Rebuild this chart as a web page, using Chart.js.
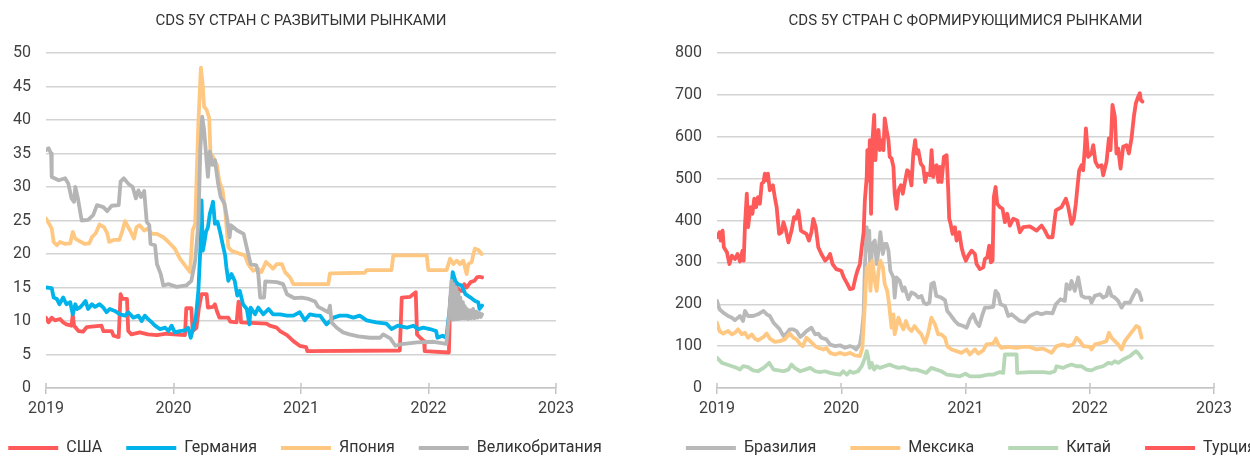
<!DOCTYPE html>
<html>
<head>
<meta charset="utf-8">
<script src="https://cdn.jsdelivr.net/npm/chart.js@4.4.1/dist/chart.umd.min.js"></script>
<style>
  html, body { margin: 0; padding: 0; background: #fff; overflow: hidden; }
  #page { position: relative; width: 1250px; height: 458px; overflow: hidden; }
  .panel { position: absolute; top: 0; width: 660px; height: 458px; }
</style>
</head>
<body>
<div id="page">
  <div class="panel" style="left:-25px"><canvas id="dev" width="660" height="458"></canvas></div>
  <div class="panel" style="left:641px"><canvas id="em" width="660" height="458"></canvas></div>
</div>
<script>
// ── data: [decimal year, bp] ──
const yearTicks = [2019, 2020, 2021, 2022, 2023];

const usa = [
  [2019.00, 10.5], [2019.02, 9.8], [2019.045, 10.5], [2019.07, 10.1], [2019.11, 10.3], [2019.135, 9.8],
  [2019.16, 9.5], [2019.20, 9.3], [2019.21, 11.0], [2019.22, 9.3], [2019.255, 8.5], [2019.29, 8.4],
  [2019.32, 9.1], [2019.435, 9.3], [2019.45, 8.5], [2019.515, 8.5], [2019.53, 7.8], [2019.57, 7.6],
  [2019.585, 14.0], [2019.60, 13.3], [2019.635, 13.3], [2019.645, 8.5], [2019.67, 8.0], [2019.735, 8.3],
  [2019.80, 8.0], [2019.87, 7.9], [2019.945, 8.1], [2020.09, 7.9], [2020.10, 11.9], [2020.14, 11.9],
  [2020.15, 8.5], [2020.18, 9.0], [2020.20, 12.0], [2020.22, 14.0], [2020.26, 14.0], [2020.27, 12.0],
  [2020.31, 12.1], [2020.325, 12.5], [2020.34, 11.5], [2020.36, 10.5], [2020.43, 10.5], [2020.445, 9.9],
  [2020.495, 9.8], [2020.51, 12.9], [2020.52, 12.5], [2020.53, 9.8], [2020.73, 9.6], [2020.755, 9.3],
  [2020.81, 9.0], [2020.835, 8.5], [2020.89, 7.9], [2020.94, 7.0], [2020.99, 6.3], [2021.04, 6.1],
  [2021.05, 5.5], [2021.775, 5.6], [2021.79, 13.5], [2021.855, 13.6], [2021.88, 14.0], [2021.90, 14.3],
  [2021.91, 8.0], [2021.935, 7.5], [2021.965, 7.0], [2021.97, 5.5], [2022.16, 5.3], [2022.17, 13.0],
  [2022.19, 15.5], [2022.22, 15.0], [2022.25, 14.5], [2022.27, 14.5], [2022.28, 15.5], [2022.30, 15.0],
  [2022.33, 15.8], [2022.36, 16.0], [2022.38, 16.5], [2022.40, 16.6], [2022.42, 16.5]
];

const germany = [
  [2019.00, 15.0], [2019.045, 14.9], [2019.06, 13.5], [2019.085, 13.3], [2019.105, 12.5], [2019.135, 13.5],
  [2019.16, 12.5], [2019.19, 12.8], [2019.21, 11.0], [2019.23, 12.5], [2019.245, 11.8], [2019.265, 12.0],
  [2019.29, 12.5], [2019.31, 13.0], [2019.33, 11.8], [2019.36, 12.5], [2019.385, 12.1], [2019.42, 12.5],
  [2019.45, 12.0], [2019.475, 11.3], [2019.50, 11.8], [2019.54, 11.5], [2019.58, 11.0], [2019.62, 10.8],
  [2019.645, 11.3], [2019.685, 10.5], [2019.725, 10.8], [2019.75, 10.0], [2019.775, 10.8], [2019.80, 10.3],
  [2019.83, 9.8], [2019.855, 9.3], [2019.895, 8.8], [2019.935, 9.0], [2019.96, 8.5], [2019.985, 9.3],
  [2020.01, 8.3], [2020.05, 8.5], [2020.09, 8.6], [2020.115, 9.0], [2020.135, 7.5], [2020.155, 9.0],
  [2020.175, 10.5], [2020.195, 14.5], [2020.21, 20.5], [2020.22, 28.0], [2020.23, 20.5], [2020.24, 21.5],
  [2020.255, 23.3], [2020.27, 24.0], [2020.285, 26.0], [2020.30, 27.0], [2020.31, 27.8], [2020.325, 24.5],
  [2020.345, 24.8], [2020.365, 23.3], [2020.385, 21.5], [2020.405, 19.8], [2020.415, 18.0], [2020.43, 16.0],
  [2020.455, 17.0], [2020.48, 16.0], [2020.50, 13.8], [2020.52, 14.5], [2020.545, 12.5], [2020.575, 11.8],
  [2020.595, 9.5], [2020.605, 12.0], [2020.64, 11.0], [2020.665, 12.0], [2020.705, 11.0], [2020.745, 11.8],
  [2020.78, 11.0], [2020.835, 11.0], [2020.89, 10.8], [2020.94, 10.8], [2020.99, 11.3], [2021.03, 10.1],
  [2021.07, 11.0], [2021.12, 10.8], [2021.15, 10.8], [2021.20, 9.5], [2021.255, 10.5], [2021.305, 10.8],
  [2021.36, 10.8], [2021.41, 10.5], [2021.46, 10.8], [2021.515, 10.1], [2021.59, 9.8], [2021.67, 9.6],
  [2021.71, 8.8], [2021.76, 9.3], [2021.83, 9.0], [2021.88, 9.3], [2021.92, 8.8], [2021.96, 9.0],
  [2022.01, 8.8], [2022.06, 8.5], [2022.07, 7.5], [2022.11, 7.8], [2022.14, 7.5], [2022.17, 12.5],
  [2022.19, 17.3], [2022.21, 16.0], [2022.23, 15.5], [2022.26, 15.3], [2022.29, 14.0], [2022.33, 13.5],
  [2022.365, 13.0], [2022.39, 12.8], [2022.40, 11.8], [2022.42, 12.3]
];

const japan = [
  [2019.00, 25.3], [2019.025, 24.5], [2019.045, 23.8], [2019.06, 21.8], [2019.085, 21.3], [2019.11, 21.8],
  [2019.15, 21.5], [2019.19, 21.6], [2019.21, 23.3], [2019.23, 22.3], [2019.265, 21.9], [2019.305, 21.5],
  [2019.34, 21.6], [2019.36, 22.5], [2019.39, 23.1], [2019.42, 24.4], [2019.455, 24.0], [2019.48, 23.1],
  [2019.495, 21.8], [2019.53, 22.1], [2019.575, 22.1], [2019.60, 23.5], [2019.62, 24.9], [2019.645, 24.0],
  [2019.67, 23.1], [2019.69, 22.3], [2019.71, 24.0], [2019.735, 24.3], [2019.77, 23.5], [2019.80, 23.8],
  [2019.83, 23.0], [2019.87, 23.0], [2019.92, 22.5], [2019.96, 21.8], [2020.01, 20.8], [2020.05, 19.3],
  [2020.09, 18.3], [2020.13, 17.3], [2020.15, 23.5], [2020.17, 24.5], [2020.195, 39.5], [2020.215, 47.8],
  [2020.23, 45.0], [2020.24, 42.0], [2020.26, 41.5], [2020.28, 40.3], [2020.29, 35.0], [2020.31, 34.5],
  [2020.34, 33.3], [2020.36, 30.8], [2020.385, 29.5], [2020.405, 26.5], [2020.43, 21.0], [2020.455, 20.5],
  [2020.51, 20.1], [2020.56, 19.8], [2020.585, 18.5], [2020.625, 17.5], [2020.665, 17.8], [2020.69, 17.3],
  [2020.725, 18.8], [2020.755, 18.3], [2020.78, 17.8], [2020.81, 18.5], [2020.85, 18.5], [2020.875, 17.3],
  [2020.915, 16.5], [2020.94, 15.5], [2021.214, 15.5], [2021.227, 17.1], [2021.50, 17.2], [2021.515, 17.6],
  [2021.71, 17.6], [2021.724, 19.8], [2021.986, 19.8], [2021.999, 17.6], [2022.142, 17.6], [2022.169, 19.3],
  [2022.195, 18.5], [2022.221, 19.0], [2022.247, 18.5], [2022.273, 19.0], [2022.299, 17.0], [2022.312, 18.5],
  [2022.339, 18.8], [2022.352, 20.0], [2022.365, 20.8], [2022.391, 20.6], [2022.417, 20.0]
];

const britain = [
  [2019.00, 35.5], [2019.02, 35.8], [2019.04, 35.0], [2019.045, 31.5], [2019.10, 31.0], [2019.15, 31.3],
  [2019.175, 30.5], [2019.20, 28.3], [2019.22, 27.8], [2019.23, 30.0], [2019.25, 28.3], [2019.28, 25.0],
  [2019.33, 25.1], [2019.37, 25.8], [2019.40, 27.3], [2019.45, 27.0], [2019.48, 26.4], [2019.515, 27.2],
  [2019.57, 27.3], [2019.585, 30.8], [2019.61, 31.3], [2019.645, 30.5], [2019.68, 30.0], [2019.705, 28.3],
  [2019.725, 29.5], [2019.745, 28.5], [2019.77, 29.4], [2019.79, 24.8], [2019.81, 24.3], [2019.82, 21.5],
  [2019.855, 21.3], [2019.87, 18.5], [2019.90, 17.0], [2019.92, 15.3], [2019.96, 15.5], [2020.025, 15.1],
  [2020.10, 15.3], [2020.14, 16.0], [2020.17, 19.0], [2020.195, 24.5], [2020.21, 35.5], [2020.225, 40.5],
  [2020.24, 38.5], [2020.255, 35.0], [2020.27, 31.5], [2020.285, 35.3], [2020.305, 33.3], [2020.325, 34.0],
  [2020.35, 30.5], [2020.37, 28.5], [2020.40, 27.5], [2020.42, 25.3], [2020.44, 22.5], [2020.45, 24.3],
  [2020.50, 23.5], [2020.55, 23.0], [2020.58, 20.5], [2020.605, 18.5], [2020.65, 18.3], [2020.665, 17.0],
  [2020.68, 13.5], [2020.71, 13.5], [2020.72, 15.9], [2020.81, 15.8], [2020.86, 15.5], [2020.89, 14.0],
  [2020.95, 13.4], [2021.005, 13.5], [2021.06, 13.3], [2021.11, 12.9], [2021.135, 12.1], [2021.215, 11.3],
  [2021.227, 12.3], [2021.24, 9.8], [2021.28, 9.0], [2021.33, 8.3], [2021.38, 8.0], [2021.45, 7.7],
  [2021.54, 7.5], [2021.62, 7.5], [2021.645, 8.0], [2021.70, 7.4], [2021.74, 6.3], [2021.775, 6.5],
  [2021.91, 6.8], [2022.04, 6.9], [2022.14, 6.6], [2022.16, 10.5], [2022.18, 16.0], [2022.19, 10.2],
  [2022.195, 15.5], [2022.20, 10.2], [2022.21, 15.0], [2022.215, 10.3], [2022.22, 14.7], [2022.225, 10.3],
  [2022.235, 14.2], [2022.24, 10.3], [2022.25, 13.5], [2022.255, 10.4], [2022.265, 12.8], [2022.27, 10.4],
  [2022.28, 12.2], [2022.285, 10.4], [2022.30, 11.8], [2022.31, 10.3], [2022.325, 11.6], [2022.335, 10.4],
  [2022.35, 11.8], [2022.36, 10.4], [2022.375, 11.4], [2022.385, 10.5], [2022.40, 11.2], [2022.41, 10.6],
  [2022.42, 11.0]
];

const brazil = [
  [2019.00, 208], [2019.02, 188], [2019.05, 180], [2019.09, 172], [2019.12, 168], [2019.145, 162],
  [2019.185, 172], [2019.21, 160], [2019.225, 184], [2019.25, 172], [2019.29, 172], [2019.33, 176],
  [2019.375, 184], [2019.40, 176], [2019.425, 172], [2019.455, 156], [2019.48, 148], [2019.505, 140],
  [2019.535, 124], [2019.56, 130], [2019.585, 140], [2019.615, 140], [2019.64, 136], [2019.67, 122],
  [2019.695, 128], [2019.72, 136], [2019.76, 144], [2019.79, 128], [2019.815, 130], [2019.84, 120],
  [2019.88, 116], [2019.91, 104], [2019.95, 100], [2019.99, 102], [2020.03, 96], [2020.07, 100],
  [2020.095, 98], [2020.12, 92], [2020.15, 104], [2020.165, 132], [2020.18, 176], [2020.19, 288],
  [2020.205, 384], [2020.215, 328], [2020.225, 376], [2020.235, 264], [2020.25, 344], [2020.27, 352],
  [2020.285, 296], [2020.30, 328], [2020.315, 372], [2020.335, 320], [2020.35, 344], [2020.365, 344],
  [2020.38, 328], [2020.395, 280], [2020.42, 264], [2020.43, 216], [2020.445, 264], [2020.47, 256],
  [2020.495, 232], [2020.51, 240], [2020.54, 212], [2020.565, 228], [2020.595, 224], [2020.62, 216],
  [2020.645, 220], [2020.665, 204], [2020.685, 200], [2020.71, 204], [2020.725, 248], [2020.745, 252],
  [2020.765, 220], [2020.805, 216], [2020.835, 210], [2020.853, 184], [2020.875, 176], [2020.915, 160],
  [2020.942, 152], [2020.982, 148], [2021.009, 144], [2021.035, 164], [2021.062, 176], [2021.089, 156],
  [2021.110, 148], [2021.137, 176], [2021.156, 192], [2021.183, 192], [2021.223, 194], [2021.242, 232],
  [2021.263, 224], [2021.282, 200], [2021.317, 196], [2021.344, 172], [2021.371, 176], [2021.405, 168],
  [2021.438, 160], [2021.478, 158], [2021.518, 172], [2021.572, 180], [2021.612, 176], [2021.652, 180],
  [2021.700, 178], [2021.727, 200], [2021.765, 212], [2021.800, 208], [2021.813, 248], [2021.840, 236],
  [2021.853, 256], [2021.880, 232], [2021.907, 264], [2021.934, 220], [2021.961, 216], [2022.001, 216],
  [2022.014, 204], [2022.041, 220], [2022.081, 224], [2022.108, 216], [2022.135, 220], [2022.154, 240],
  [2022.175, 220], [2022.202, 216], [2022.229, 208], [2022.256, 192], [2022.282, 204], [2022.323, 204],
  [2022.349, 220], [2022.374, 234], [2022.398, 228], [2022.417, 210]
];

const mexico = [
  [2019.00, 156], [2019.02, 136], [2019.05, 130], [2019.09, 136], [2019.12, 128], [2019.145, 132],
  [2019.17, 140], [2019.20, 128], [2019.225, 132], [2019.25, 120], [2019.28, 128], [2019.305, 118],
  [2019.33, 114], [2019.375, 122], [2019.40, 130], [2019.425, 118], [2019.465, 110], [2019.505, 112],
  [2019.545, 116], [2019.585, 130], [2019.615, 120], [2019.64, 116], [2019.67, 104], [2019.69, 100],
  [2019.72, 120], [2019.75, 112], [2019.79, 100], [2019.815, 96], [2019.855, 92], [2019.88, 96],
  [2019.91, 84], [2019.95, 80], [2019.99, 84], [2020.03, 80], [2020.07, 84], [2020.11, 78],
  [2020.15, 76], [2020.17, 96], [2020.19, 200], [2020.205, 288], [2020.215, 264], [2020.225, 296],
  [2020.235, 232], [2020.25, 304], [2020.27, 256], [2020.285, 232], [2020.30, 280], [2020.315, 304],
  [2020.335, 288], [2020.35, 248], [2020.37, 232], [2020.385, 200], [2020.405, 144], [2020.42, 176],
  [2020.43, 128], [2020.46, 168], [2020.48, 152], [2020.50, 140], [2020.52, 160], [2020.54, 144],
  [2020.565, 136], [2020.59, 148], [2020.62, 136], [2020.645, 128], [2020.675, 108], [2020.70, 132],
  [2020.725, 168], [2020.755, 152], [2020.78, 128], [2020.805, 128], [2020.835, 120], [2020.853, 100],
  [2020.888, 92], [2020.928, 88], [2020.968, 84], [2021.009, 92], [2021.035, 80], [2021.076, 92],
  [2021.102, 82], [2021.143, 90], [2021.169, 104], [2021.223, 106], [2021.245, 118], [2021.263, 104],
  [2021.290, 96], [2021.344, 98], [2021.411, 96], [2021.464, 98], [2021.518, 98], [2021.572, 92],
  [2021.625, 94], [2021.666, 88], [2021.693, 84], [2021.733, 100], [2021.786, 104], [2021.827, 100],
  [2021.867, 104], [2021.894, 120], [2021.920, 112], [2021.947, 100], [2022.001, 98], [2022.014, 92],
  [2022.041, 104], [2022.095, 108], [2022.135, 112], [2022.154, 132], [2022.175, 120], [2022.202, 112],
  [2022.229, 104], [2022.256, 92], [2022.282, 112], [2022.323, 128], [2022.355, 140], [2022.374, 148],
  [2022.398, 144], [2022.417, 120]
];

const china = [
  [2019.00, 72], [2019.04, 60], [2019.08, 56], [2019.12, 52], [2019.16, 48], [2019.185, 44],
  [2019.21, 52], [2019.25, 50], [2019.29, 42], [2019.33, 40], [2019.375, 48], [2019.405, 56],
  [2019.42, 60], [2019.455, 44], [2019.495, 42], [2019.535, 40], [2019.575, 44], [2019.60, 56],
  [2019.625, 48], [2019.67, 40], [2019.71, 44], [2019.75, 48], [2019.79, 40], [2019.83, 38],
  [2019.87, 40], [2019.91, 36], [2019.95, 34], [2019.99, 32], [2020.015, 40], [2020.045, 32],
  [2020.07, 40], [2020.095, 36], [2020.135, 40], [2020.165, 52], [2020.19, 72], [2020.205, 88],
  [2020.215, 76], [2020.23, 48], [2020.245, 60], [2020.265, 44], [2020.285, 52], [2020.31, 48],
  [2020.35, 52], [2020.39, 56], [2020.42, 52], [2020.46, 48], [2020.50, 50], [2020.555, 44],
  [2020.605, 44], [2020.645, 40], [2020.685, 36], [2020.725, 48], [2020.765, 44], [2020.805, 40],
  [2020.85, 32], [2020.901, 30], [2020.955, 28], [2021.000, 34], [2021.035, 28], [2021.116, 28],
  [2021.183, 32], [2021.223, 32], [2021.277, 38], [2021.304, 36], [2021.317, 80], [2021.411, 80],
  [2021.416, 36], [2021.518, 38], [2021.625, 38], [2021.679, 36], [2021.719, 40], [2021.733, 52],
  [2021.786, 48], [2021.813, 52], [2021.853, 56], [2021.894, 52], [2021.934, 52], [2021.974, 44],
  [2022.014, 42], [2022.054, 48], [2022.108, 52], [2022.148, 60], [2022.175, 58], [2022.202, 64],
  [2022.229, 60], [2022.269, 68], [2022.323, 76], [2022.355, 84], [2022.374, 88], [2022.398, 80],
  [2022.417, 72]
];

const turkey = [
  [2019.00, 360], [2019.02, 372], [2019.03, 352], [2019.045, 376], [2019.055, 336], [2019.08, 324],
  [2019.10, 296], [2019.12, 316], [2019.145, 308], [2019.165, 320], [2019.185, 302], [2019.205, 328],
  [2019.215, 304], [2019.225, 388], [2019.24, 464], [2019.25, 384], [2019.27, 432], [2019.285, 416],
  [2019.30, 452], [2019.315, 432], [2019.33, 456], [2019.345, 440], [2019.36, 488], [2019.375, 492],
  [2019.385, 512], [2019.40, 496], [2019.41, 512], [2019.425, 472], [2019.45, 484], [2019.465, 456],
  [2019.48, 432], [2019.50, 368], [2019.52, 372], [2019.535, 396], [2019.555, 376], [2019.575, 348],
  [2019.60, 376], [2019.62, 408], [2019.635, 404], [2019.655, 424], [2019.675, 376], [2019.695, 372],
  [2019.72, 368], [2019.74, 352], [2019.76, 372], [2019.775, 404], [2019.795, 384], [2019.815, 336],
  [2019.84, 320], [2019.87, 304], [2019.895, 312], [2019.91, 320], [2019.93, 296], [2019.96, 284],
  [2020.00, 280], [2020.02, 264], [2020.05, 248], [2020.07, 236], [2020.095, 238], [2020.115, 264],
  [2020.13, 280], [2020.15, 296], [2020.165, 336], [2020.18, 372], [2020.19, 448], [2020.205, 504],
  [2020.21, 568], [2020.22, 496], [2020.23, 592], [2020.24, 416], [2020.25, 584], [2020.265, 652],
  [2020.275, 544], [2020.285, 600], [2020.30, 616], [2020.31, 568], [2020.325, 592], [2020.34, 568],
  [2020.35, 644], [2020.365, 616], [2020.38, 592], [2020.39, 552], [2020.405, 548], [2020.42, 528],
  [2020.43, 464], [2020.445, 428], [2020.46, 472], [2020.48, 484], [2020.495, 464], [2020.51, 488],
  [2020.53, 520], [2020.545, 516], [2020.565, 484], [2020.58, 560], [2020.595, 592], [2020.605, 560],
  [2020.62, 568], [2020.64, 536], [2020.66, 528], [2020.675, 492], [2020.69, 512], [2020.715, 508],
  [2020.727, 568], [2020.740, 504], [2020.754, 528], [2020.767, 532], [2020.781, 492], [2020.794, 528],
  [2020.807, 492], [2020.826, 552], [2020.848, 556], [2020.861, 472], [2020.869, 404], [2020.880, 392],
  [2020.896, 368], [2020.915, 384], [2020.928, 352], [2020.950, 372], [2020.968, 336], [2020.982, 320],
  [2021.003, 304], [2021.022, 316], [2021.049, 328], [2021.076, 320], [2021.089, 296], [2021.116, 284],
  [2021.143, 288], [2021.156, 308], [2021.175, 312], [2021.191, 340], [2021.204, 300], [2021.218, 304],
  [2021.228, 456], [2021.242, 480], [2021.255, 440], [2021.277, 432], [2021.298, 428], [2021.317, 396],
  [2021.336, 416], [2021.357, 388], [2021.384, 404], [2021.416, 400], [2021.438, 372], [2021.464, 384],
  [2021.518, 386], [2021.572, 376], [2021.612, 388], [2021.639, 376], [2021.666, 360], [2021.700, 360],
  [2021.727, 424], [2021.773, 432], [2021.808, 452], [2021.827, 432], [2021.853, 392], [2021.872, 404],
  [2021.888, 440], [2021.901, 480], [2021.915, 520], [2021.934, 532], [2021.947, 520], [2021.961, 576],
  [2021.969, 620], [2021.987, 552], [2022.014, 560], [2022.028, 580], [2022.046, 540], [2022.068, 528],
  [2022.095, 532], [2022.108, 508], [2022.135, 540], [2022.154, 596], [2022.167, 568], [2022.183, 676],
  [2022.202, 648], [2022.215, 560], [2022.229, 572], [2022.248, 524], [2022.269, 576], [2022.296, 580],
  [2022.315, 560], [2022.336, 596], [2022.355, 648], [2022.371, 680], [2022.390, 696], [2022.403, 704],
  [2022.411, 688], [2022.424, 684]
];

// ── styling ──
const FONT = 'Roboto, "Noto Sans", sans-serif';
const RED = '#ff5a5a';
const BLUE = '#00b3ea';
const ORANGE = '#ffc882';
const GREY = '#b5b5b5';
const GREEN = '#b7d8b7';
const X_AXIS_H = 28;

Chart.defaults.font.family = FONT;

// the legend's item gap also pads it vertically; pull it back up so the row sits at the same height
const legendLift = {
  id: 'legendLift',
  afterLayout(chart, args, opts) {
    const lift = opts.lift || 0;
    chart.legend.top -= lift;
    chart.legend.bottom -= lift;
  },
};

// small tick marks above the x axis too, like the original
const axisTicksUp = {
  id: 'axisTicksUp',
  afterDraw(chart) {
    const x = chart.scales.x;
    const ctx = chart.ctx;
    ctx.save();
    ctx.strokeStyle = '#c4c4c4';
    ctx.lineWidth = 1.5;
    yearTicks.forEach(v => {
      const px = Math.round(x.getPixelForValue(v));
      ctx.beginPath();
      ctx.moveTo(px, x.top - 5);
      ctx.lineTo(px, x.top);
      ctx.stroke();
    });
    ctx.restore();
  },
};

function series(label, points, color, order) {
  return {
    label,
    order,
    data: points.map(([x, y]) => ({ x, y })),
    borderColor: color,
    backgroundColor: color,
    borderWidth: 3.8,
    borderCapStyle: 'round',
    borderJoinStyle: 'round',
    pointRadius: 0,
    pointHoverRadius: 0,
    tension: 0,
    fill: false,
  };
}

function panel(id, cfg) {
  const axisFont = { family: FONT, size: 16 };
  const legendH = 16 + cfg.legendGap + 10;
  new Chart(document.getElementById(id), {
    type: 'line',
    data: { datasets: cfg.datasets },
    plugins: [legendLift, axisTicksUp],
    options: {
      responsive: false,
      animation: false,
      events: [],
      layout: { padding: { top: 0, right: 0, bottom: 70 - X_AXIS_H - legendH, left: 0 } },
      plugins: {
        legendLift: { lift: cfg.legendGap - 24 },
        title: {
          display: true,
          text: cfg.title,
          fullSize: false,
          color: '#333',
          font: { family: FONT, size: 15, weight: 'normal' },
          padding: { top: 12, bottom: 23 },
        },
        legend: {
          position: 'bottom',
          labels: {
            usePointStyle: true,
            pointStyle: 'line',
            pointStyleWidth: 50,
            boxHeight: 4,
            padding: cfg.legendGap,
            color: '#333',
            font: { family: FONT, size: 16 },
            sort: (a, b) => a.datasetIndex - b.datasetIndex,
          },
        },
        tooltip: { enabled: false },
      },
      scales: {
        x: {
          type: 'linear',
          min: 2019,
          max: 2023,
          afterBuildTicks: s => { s.ticks = yearTicks.map(value => ({ value })); },
          afterFit: s => { s.height = X_AXIS_H; },
          ticks: { color: '#404040', font: axisFont, padding: 5, maxRotation: 0, callback: v => String(v) },
          grid: { drawOnChartArea: false, color: '#c4c4c4', lineWidth: 1.5, tickLength: 6 },
          border: { color: '#c4c4c4', width: 1.5 },
        },
        y: {
          min: 0,
          max: cfg.yMax,
          afterFit: s => { s.width = cfg.leftWidth; },
          ticks: { stepSize: cfg.yStep, color: '#404040', font: axisFont, padding: 15 },
          grid: { color: '#d3d3d3', lineWidth: 1.5, drawTicks: false },
          border: { display: false },
        },
        // empty right-hand axis, only reserves room so the plot ends where the original does
        gap: {
          type: 'linear',
          position: 'right',
          min: 0,
          max: 1,
          afterFit: s => { s.width = cfg.rightWidth; },
          ticks: { display: false },
          grid: { display: false },
          border: { display: false },
        },
      },
    },
  });
}

panel('dev', {
  title: 'CDS 5Y СТРАН С РАЗВИТЫМИ РЫНКАМИ',
  yMax: 50,
  yStep: 5,
  leftWidth: 71,
  rightWidth: 79,
  legendGap: 24,
  datasets: [
    series('США', usa, RED, 4),
    series('Германия', germany, BLUE, 3),
    series('Япония', japan, ORANGE, 2),
    series('Великобритания', britain, GREY, 1),
  ],
});

panel('em', {
  title: 'CDS 5Y СТРАН С ФОРМИРУЮЩИМИСЯ РЫНКАМИ',
  yMax: 800,
  yStep: 100,
  leftWidth: 76,
  rightWidth: 87,
  legendGap: 34,
  datasets: [
    series('Бразилия', brazil, '#b9b9b9', 4),
    series('Мексика', mexico, ORANGE, 3),
    series('Китай', china, GREEN, 2),
    series('Турция', turkey, RED, 1),
  ],
});
</script>
</body>
</html>
